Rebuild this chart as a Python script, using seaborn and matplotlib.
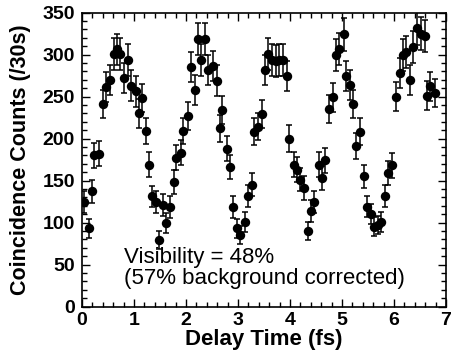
import matplotlib
matplotlib.use("Agg")
import matplotlib.pyplot as plt
import seaborn as sns
import pandas as pd
from matplotlib.ticker import MultipleLocator

delay_fs = [0.045, 0.14, 0.20, 0.24, 0.33, 0.41, 0.47, 0.54, 0.615, 0.667,
            0.73, 0.80, 0.89, 0.95, 1.03, 1.09, 1.15, 1.23, 1.29, 1.34,
            1.42, 1.49, 1.56, 1.62, 1.69, 1.76, 1.81, 1.90, 1.95, 2.03,
            2.09, 2.17, 2.23, 2.29, 2.36, 2.43, 2.51, 2.59, 2.65, 2.70,
            2.78, 2.85, 2.91, 2.99, 3.04, 3.13, 3.19, 3.26, 3.31, 3.38,
            3.47, 3.51, 3.58, 3.65, 3.73, 3.79, 3.86, 3.94, 3.99, 4.07,
            4.13, 4.19, 4.26, 4.35, 4.40, 4.47, 4.55, 4.61, 4.67, 4.75,
            4.82, 4.88, 4.95, 5.03, 5.08, 5.15, 5.22, 5.27, 5.35, 5.43,
            5.49, 5.55, 5.62, 5.69, 5.75, 5.82, 5.88, 5.96, 6.03, 6.12,
            6.17, 6.23, 6.31, 6.36, 6.44, 6.51, 6.60, 6.64, 6.69, 6.79]
counts = [124, 93, 137, 180, 182, 241, 261, 270, 301, 306,
          301, 272, 293, 263, 256, 230, 248, 209, 169, 131,
          124, 79, 121, 99, 118, 148, 177, 183, 209, 227,
          285, 258, 319, 294, 319, 282, 286, 269, 212, 234,
          188, 166, 118, 93, 85, 101, 132, 145, 208, 214,
          229, 282, 301, 294, 292, 294, 294, 274, 200, 169,
          163, 151, 141, 90, 114, 124, 169, 153, 174, 235,
          249, 299, 307, 324, 274, 264, 241, 191, 208, 155,
          119, 110, 95, 97, 101, 132, 159, 168, 250, 278,
          299, 303, 270, 309, 331, 325, 322, 251, 262, 254]
count_err = [13, 11, 14, 15, 15, 17, 18, 18, 19, 19,
             19, 18, 19, 18, 18, 17, 17, 16, 15, 13,
             13, 11, 13, 12, 13, 14, 15, 15, 16, 17,
             18, 18, 19, 19, 19, 18, 18, 18, 16, 17,
             15, 14, 13, 11, 11, 12, 13, 14, 16, 16,
             17, 18, 19, 19, 19, 19, 19, 18, 16, 15,
             15, 14, 14, 11, 13, 13, 15, 14, 15, 17,
             17, 19, 19, 20, 18, 18, 17, 15, 16, 14,
             13, 12, 11, 11, 12, 13, 14, 15, 17, 18,
             19, 19, 18, 19, 20, 20, 19, 17, 17, 17]

x_ticks = [0, 1, 2, 3, 4, 5, 6, 7]
y_ticks = [0, 50, 100, 150, 200, 250, 300, 350]
annotation_lines = ["Visibility = 48%", "(57% background corrected)"]

sns.set_style("ticks")
plt.rcParams['font.family'] = ['Liberation Sans', 'DejaVu Sans']
plt.rcParams.update({"text.color": "black", "axes.labelcolor": "black",
                     "xtick.color": "black", "ytick.color": "black"})

df = pd.DataFrame({"delay": delay_fs, "counts": counts, "err": count_err})

fig = plt.figure(figsize=(4.52, 3.58), dpi=100)
ax = fig.add_axes([82/452, 1 - 306.5/358, (446 - 82)/452, (306.5 - 12.5)/358])

ax.errorbar(df["delay"], df["counts"], yerr=df["err"], fmt="none",
            ecolor="black", elinewidth=1.1, capsize=2.3, capthick=1.1, zorder=2)
sns.scatterplot(data=df, x="delay", y="counts", ax=ax, color="black",
                s=46, edgecolor="black", linewidth=0, zorder=3, legend=False)

ax.set_xlim(0, 7)
ax.set_ylim(0, 350)
ax.set_xticks(x_ticks)
ax.set_yticks(y_ticks)
ax.xaxis.set_minor_locator(MultipleLocator(0.2))
ax.yaxis.set_minor_locator(MultipleLocator(10))
ax.tick_params(which="both", direction="in", top=True, right=True,
               colors="black", width=1.0)
ax.tick_params(which="major", length=6, labelsize=14)
ax.tick_params(axis="x", which="major", pad=4)
ax.tick_params(axis="y", which="major", pad=5)
ax.tick_params(which="minor", length=3.5)
for lab in ax.get_xticklabels() + ax.get_yticklabels():
    lab.set_fontweight("bold")
for sp in ax.spines.values():
    sp.set_visible(True)
    sp.set_linewidth(1.2)
    sp.set_color("black")

ax.set_xlabel("Delay Time (fs)", fontsize=16, fontweight="bold", labelpad=0)
ax.set_ylabel("Coincidence Counts (/30s)", fontsize=15.5, fontweight="bold", labelpad=8)

ax.text(0.115, 0.167, annotation_lines[0], transform=ax.transAxes,
        fontsize=16, va="center", ha="left")
ax.text(0.115, 0.095, annotation_lines[1], transform=ax.transAxes,
        fontsize=16, va="center", ha="left")

fig.savefig("out.png", dpi=100)
